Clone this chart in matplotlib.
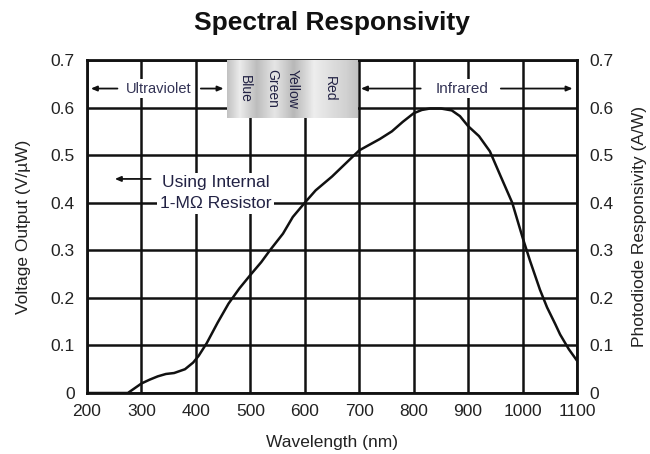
import numpy as np
import matplotlib
matplotlib.use("Agg")
import matplotlib.pyplot as plt

plt.rcParams['font.family'] = ['Liberation Sans', 'DejaVu Sans']

# Data
wavelength = [200, 250, 275, 290, 300, 315, 330, 345, 360, 380, 395, 405, 420, 440, 460,
              480, 500, 520, 536, 560, 578, 600, 620, 650, 680, 700, 738, 760, 780,
              800, 815, 830, 850, 870, 885, 900, 920, 940, 960, 981, 1000, 1014,
              1032, 1045, 1060, 1069, 1085, 1100]
voltage = [0.0, 0.0, 0.0, 0.012, 0.02, 0.028, 0.035, 0.04, 0.042, 0.05, 0.064, 0.078, 0.105,
           0.148, 0.188, 0.22, 0.248, 0.275, 0.30, 0.335, 0.37, 0.40, 0.426, 0.455, 0.488,
           0.51, 0.534, 0.55, 0.57, 0.588, 0.595, 0.598, 0.598, 0.594, 0.582, 0.561,
           0.54, 0.508, 0.455, 0.40, 0.327, 0.277, 0.217, 0.18, 0.145, 0.123, 0.092, 0.068]

x_ticks = [200, 300, 400, 500, 600, 700, 800, 900, 1000, 1100]
y_ticks = [0, 0.1, 0.2, 0.3, 0.4, 0.5, 0.6, 0.7]
y_tick_labels = ['0', '0.1', '0.2', '0.3', '0.4', '0.5', '0.6', '0.7']
color_bands = ['Blue', 'Green', 'Yellow', 'Red']
color_band_pos = [490, 540, 578, 646]

fig = plt.figure(figsize=(6.5, 4.54), dpi=100)
ax = fig.add_axes([87/650, 1-393/454, 490/650, 333/454])

ax.set_xlim(200, 1100)
ax.set_ylim(0, 0.7)
ax.set_xticks(x_ticks)
ax.set_yticks(y_ticks)
ax.set_yticklabels(y_tick_labels)
ax.grid(True, color='#111111', linewidth=1.8, zorder=0)
ax.set_axisbelow(True)
for s in ax.spines.values():
    s.set_linewidth(2.0)
    s.set_color('#111111')
ax.tick_params(length=0, labelsize=12.5, colors='#222222', pad=8)
ax.tick_params(axis='y', pad=9)

# right axis
ax2 = ax.twinx()
ax2.set_ylim(0, 0.7)
ax2.set_yticks(y_ticks)
ax2.set_yticklabels(y_tick_labels)
ax2.tick_params(length=0, labelsize=12.5, colors='#222222', pad=9)
for s in ax2.spines.values():
    s.set_visible(False)

# curve
ax.plot(wavelength, voltage, color='#111111', linewidth=1.8, zorder=5)

# gray gradient box
prof_x = np.array([457, 480, 511, 544, 579, 616, 652, 675, 696])
prof_v = np.array([0.76, 0.92, 0.74, 0.90, 0.72, 0.93, 0.86, 0.82, 0.76])
gx = np.linspace(457, 696, 200)
gv = np.interp(gx, prof_x, prof_v)
img = np.tile(gv, (10, 1))
ax.imshow(img, cmap='gray', vmin=0, vmax=1, extent=[457, 696, 0.578, 0.7],
          aspect='auto', zorder=3, interpolation='bilinear')
ax.set_xlim(200, 1100)
ax.set_ylim(0, 0.7)
for name, xp in zip(color_bands, color_band_pos):
    ax.text(xp, 0.64, name, rotation=270, ha='center', va='center', fontsize=10,
            color='#222244', zorder=4)

arrow_kw = dict(arrowstyle='-|>,head_length=0.35,head_width=0.15', color='#111111', lw=1.3)
bbox_kw = dict(facecolor='white', edgecolor='none', pad=2)

# Ultraviolet
ax.annotate('', xy=(202, 0.64), xytext=(261, 0.64), arrowprops=arrow_kw, zorder=4)
ax.annotate('', xy=(456, 0.64), xytext=(404, 0.64), arrowprops=arrow_kw, zorder=4)
ax.text(332, 0.64, 'Ultraviolet', ha='center', va='center', fontsize=10.5,
        color='#333355', bbox=bbox_kw, zorder=4)

# Infrared
ax.annotate('', xy=(698, 0.64), xytext=(818, 0.64), arrowprops=arrow_kw, zorder=4)
ax.annotate('', xy=(1097, 0.64), xytext=(955, 0.64), arrowprops=arrow_kw, zorder=4)
ax.text(889, 0.64, 'Infrared', ha='center', va='center', fontsize=11,
        color='#333355', bbox=bbox_kw, zorder=4)

# Using internal resistor
ax.annotate('', xy=(246, 0.45), xytext=(322, 0.45), arrowprops=arrow_kw, zorder=4)
ax.text(436, 0.42, 'Using Internal\n1-MΩ Resistor', ha='center', va='center',
        fontsize=12.5, color='#222244', linespacing=1.45,
        bbox=dict(facecolor='white', edgecolor='none', pad=2), zorder=4)

ax.set_xlabel('Wavelength (nm)', fontsize=12.5, color='#222222')
ax.xaxis.set_label_coords(0.5, -0.126)
ax.set_ylabel('Voltage Output (V/µW)', fontsize=12.5, color='#222222')
ax.yaxis.set_label_coords(-0.115, 0.5)
ax2.set_ylabel('Photodiode Responsivity (A/W)', fontsize=12.5, color='#222222',
               rotation=90)
ax2.yaxis.set_label_coords(1.113, 0.5)
fig.text(332/650, 1-23/454, 'Spectral Responsivity', ha='center', va='center',
         fontsize=19, fontweight='bold', color='#111111')

fig.savefig('out.png', dpi=100)
